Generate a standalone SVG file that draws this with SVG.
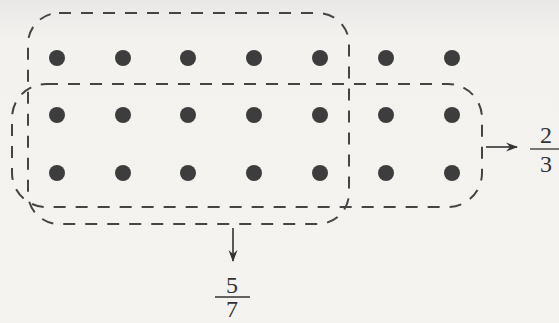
<svg xmlns="http://www.w3.org/2000/svg" width="559" height="323" viewBox="0 0 559 323">
<defs>
<linearGradient id="bg" x1="0" y1="0" x2="0" y2="1">
<stop offset="0" stop-color="#e9e8e6"/>
<stop offset="0.12" stop-color="#f3f2ef"/>
<stop offset="1" stop-color="#f5f3f0"/>
</linearGradient>
<marker id="ah" viewBox="0 0 12 10" refX="11" refY="5" markerWidth="12" markerHeight="10" markerUnits="userSpaceOnUse" orient="auto">
<path d="M0,0.5 L12,5 L0,9.5 L4,5 Z" fill="#333"/>
</marker>
</defs>
<style>
.grp{fill:none;stroke:#444;stroke-width:2;stroke-dasharray:12 10}
.dot{fill:#3d3d3d}
.conn{stroke:#333;stroke-width:1.6;fill:none;marker-end:url(#ah)}
.num{font-family:"Liberation Serif",serif;font-size:24px;fill:#333;text-anchor:middle}
.bar{stroke:#333;stroke-width:1.3}
</style>
<rect width="559" height="323" fill="url(#bg)"/>
<g id="group-rows">
<rect class="grp" x="28" y="13" width="321" height="211" rx="31"/>
</g>
<g id="group-cols">
<rect class="grp" x="12" y="84" width="470" height="123" rx="34"/>
</g>
<g id="dots">
<g class="dot">
<circle cx="57" cy="58" r="8"/><circle cx="123" cy="58" r="8"/><circle cx="188" cy="58" r="8"/><circle cx="254" cy="58" r="8"/><circle cx="320" cy="58" r="8"/><circle cx="386" cy="58" r="8"/><circle cx="452" cy="58" r="8"/>
<circle cx="57" cy="115" r="8"/><circle cx="123" cy="115" r="8"/><circle cx="188" cy="115" r="8"/><circle cx="254" cy="115" r="8"/><circle cx="320" cy="115" r="8"/><circle cx="386" cy="115" r="8"/><circle cx="452" cy="115" r="8"/>
<circle cx="57" cy="173" r="8"/><circle cx="123" cy="173" r="8"/><circle cx="188" cy="173" r="8"/><circle cx="254" cy="173" r="8"/><circle cx="320" cy="173" r="8"/><circle cx="386" cy="173" r="8"/><circle cx="452" cy="173" r="8"/>
</g>
</g>
<g id="connectors">
<line class="conn" x1="486" y1="147" x2="517" y2="147"/>
<line class="conn" x1="233" y1="228" x2="233" y2="261"/>
</g>
<g id="label-2-3">
<text class="num" x="546" y="143">2</text>
<line class="bar" x1="530" y1="149" x2="559" y2="149"/>
<text class="num" x="546" y="172">3</text>
</g>
<g id="label-5-7">
<text class="num" x="232" y="293">5</text>
<line class="bar" x1="215" y1="297" x2="250" y2="297"/>
<text class="num" x="232" y="317">7</text>
</g>
</svg>
